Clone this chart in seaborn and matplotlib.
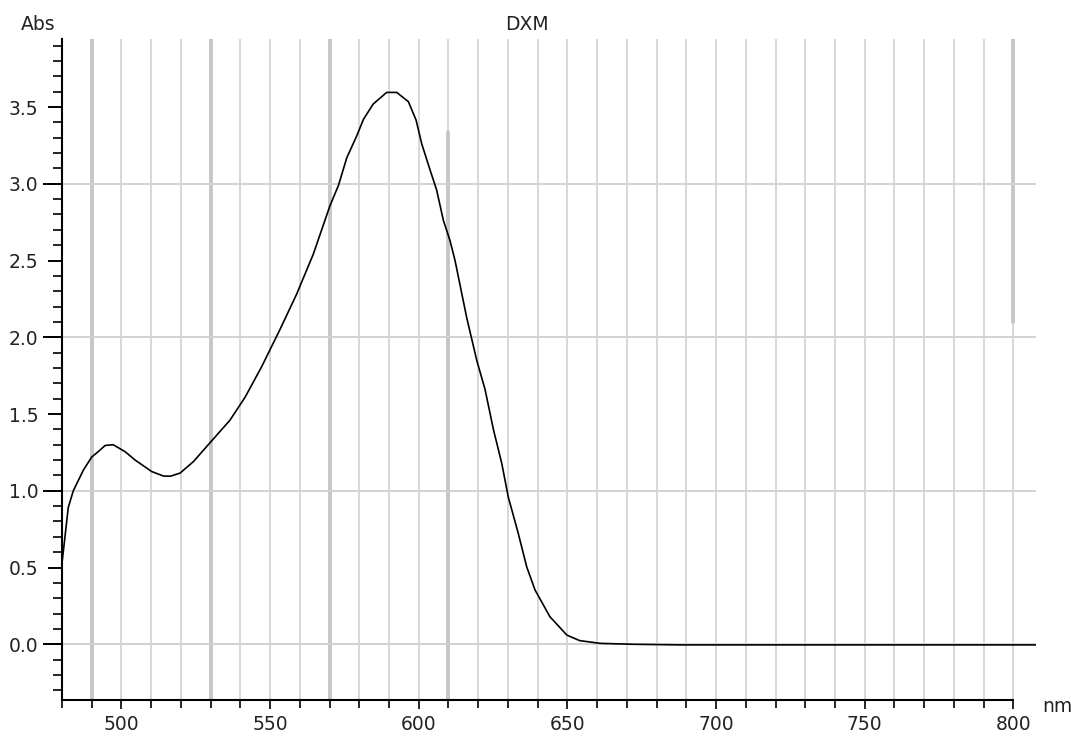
import numpy as np
import matplotlib
matplotlib.use("Agg")
import matplotlib.pyplot as plt
import seaborn as sns
from matplotlib.ticker import MultipleLocator

# --- spectrum (nm, Abs) ---
wavelength = [480, 481, 482.1, 483.8, 487.2, 490, 492.2, 494.5, 497.2, 501.2,
              504.6, 510.2, 514.1, 516.5, 519.7, 524.2, 529.2, 536.5, 541.6,
              547.2, 553.3, 558.9, 564.5, 570.1, 573, 575.8, 579.1, 581.4,
              584.7, 589.2, 592.6, 596.5, 599.1, 601, 603.8, 606, 608.3, 610.5,
              612.2, 616.1, 619.5, 622.3, 625.1, 627.9, 630.1, 633.5, 636.3,
              639.1, 644.1, 649.8, 654.1, 661, 672.2, 688, 720, 760, 808]
absorbance = [0.53, 0.70, 0.89, 1.00, 1.135, 1.22, 1.255, 1.295, 1.30, 1.255,
              1.20, 1.125, 1.096, 1.095, 1.115, 1.19, 1.30, 1.46, 1.61,
              1.81, 2.05, 2.28, 2.54, 2.855, 2.99, 3.17, 3.31, 3.42,
              3.52, 3.595, 3.595, 3.535, 3.415, 3.26, 3.09, 2.96, 2.76, 2.63,
              2.50, 2.13, 1.85, 1.66, 1.40, 1.18, 0.96, 0.72, 0.505,
              0.354, 0.18, 0.06, 0.024, 0.006, 0.0, -0.004, -0.004, -0.004, -0.004]

x_ticks = [500, 550, 600, 650, 700, 750, 800]
h_grid = [0, 1, 2, 3]
thick_grid = [490, 530, 570]

sns.set_theme(style="white")
plt.rcParams["font.family"] = ["DejaVu Sans"]

W, H = 1071, 736
fig = plt.figure(figsize=(W / 100, H / 100), dpi=100)
ax = fig.add_axes([62 / W, 1 - 700 / H, (1036 - 62) / W, (700 - 39) / H])

x_max = 480 + (1036 - 62) / 2.973
y_min, y_max = -0.363, 3.943

# gridlines (instrument-style)
for xv in np.arange(490, 801, 10):
    ax.axvline(xv, color="#d2d2d2", lw=1.2, zorder=0)
for xv in thick_grid:
    ax.axvline(xv, color="#c6c6c6", lw=2.8, zorder=0)
ax.axvline(610, ymax=(3.34 - y_min) / (y_max - y_min), color="#c6c6c6", lw=2.8, zorder=0)
ax.axvline(800, ymin=(2.1 - y_min) / (y_max - y_min), color="#c6c6c6", lw=2.8, zorder=0)
for yv in h_grid:
    ax.axhline(yv, color="#d2d2d2", lw=1.4, zorder=0)

sns.lineplot(x=wavelength, y=absorbance, color="black", lw=1.2, ax=ax, zorder=3)

ax.set_xlim(480, x_max)
ax.set_ylim(y_min, y_max)

for s in ["top", "right"]:
    ax.spines[s].set_visible(False)
for s in ["left", "bottom"]:
    ax.spines[s].set_color("black")
    ax.spines[s].set_linewidth(1.5)
ax.spines["bottom"].set_bounds(480, 800)

ax.set_xticks(x_ticks)
ax.set_xticks(np.arange(480, 801, 10), minor=True)
ax.yaxis.set_major_locator(MultipleLocator(0.5))
ax.yaxis.set_minor_locator(MultipleLocator(0.1))
ax.yaxis.set_major_formatter(plt.FormatStrFormatter("%.1f"))

ax.tick_params(axis="x", which="major", direction="out", length=6.5, width=1.2,
               color="black", labelsize=13.5, pad=4, labelcolor="#222222", bottom=True)
ax.tick_params(axis="x", which="minor", direction="out", length=5.5, width=1.2,
               color="black", bottom=True)
ax.tick_params(axis="y", which="major", direction="out", length=9.9, width=1.4,
               color="black", labelsize=13.5, pad=7.2, labelcolor="#222222", left=True)
ax.tick_params(axis="y", which="minor", direction="out", length=6.3, width=1.2,
               color="black", left=True)
ax.set_xlabel("")
ax.set_ylabel("")

# integer Abs ticks are drawn longer: extra unlabelled axis on the left spine
sec = ax.secondary_yaxis("left")
sec.set_yticks(h_grid)
sec.yaxis.set_minor_locator(plt.NullLocator())
sec.tick_params(axis="y", direction="out", length=13.5, width=1.4, color="black",
                labelleft=False)
sec.spines["left"].set_visible(False)

fig.text(38 / W, 1 - 24 / H, "Abs", ha="center", va="center", fontsize=13.5, color="#222222")
fig.text(527 / W, 1 - 25 / H, "DXM", ha="center", va="center", fontsize=13.5, color="#222222")
fig.text(1057 / W, 1 - 707 / H, "nm", ha="center", va="center", fontsize=13.5, color="#222222")

fig.savefig("out.png", dpi=100, facecolor="white")
